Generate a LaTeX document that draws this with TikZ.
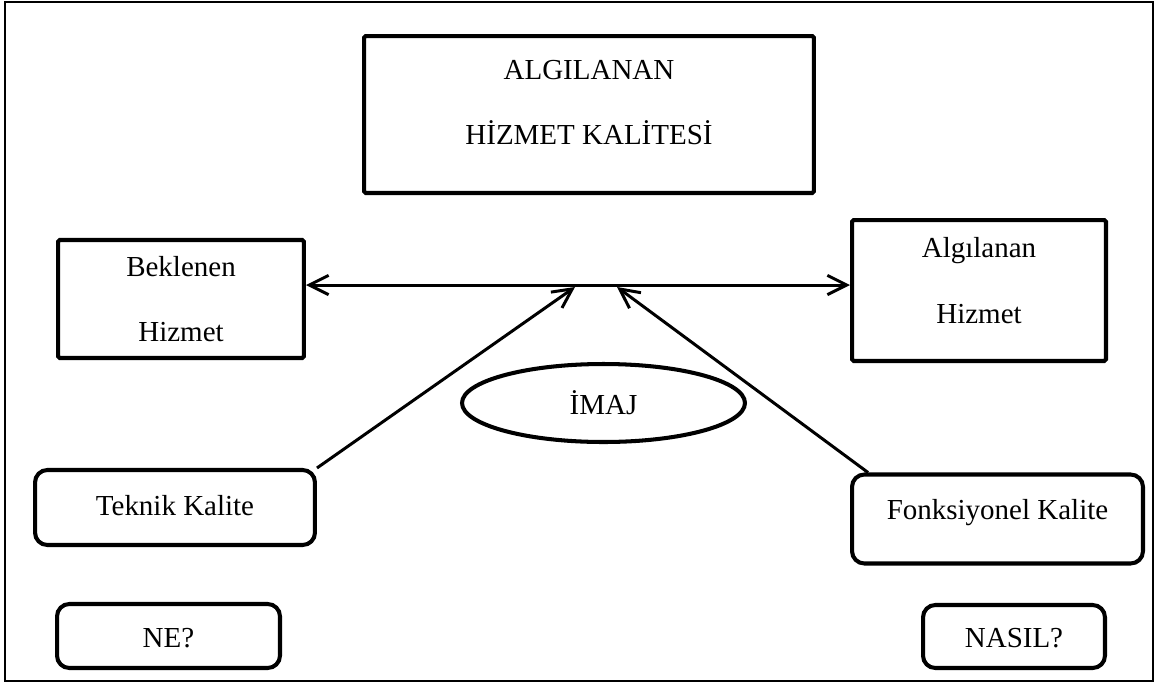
\documentclass[tikz,border=0pt]{standalone}
\usepackage{fontspec}
\setmainfont{Liberation Serif}
\usetikzlibrary{arrows.meta, shapes.geometric, calc}
\tikzset{
  basebox/.style={rectangle, draw=black, line width=2.3pt, align=center,
    inner sep=0pt, font=\fontsize{16.5}{37}\selectfont},
  sqbox/.style={basebox, rounded corners=1pt},
  rndbox/.style={basebox, rounded corners=7pt},
  imgoval/.style={ellipse, draw=black, line width=2.3pt, inner sep=0pt,
    font=\fontsize{16.5}{37}\selectfont},
  arrow/.style={-{Straight Barb[length=11pt, width=11pt]}, line width=1.7pt},
  dblarrow/.style={{Straight Barb[length=11pt, width=11pt]}-{Straight Barb[length=11pt, width=11pt]},
    line width=1.7pt}
}
\begin{document}
\begin{tikzpicture}[x=0.02cm, y=-0.02cm]
  \useasboundingbox (0,0) rectangle (1164,684);
  \draw[line width=1.1pt] (5,2) rectangle (1153,681);

  % Main quality box
  \node[sqbox, minimum width=9cm, text height=2.18cm, text depth=0.96cm] (qual)
    at (589,114.5) {ALGILANAN\\HİZMET KALİTESİ};

  % Expected and perceived service
  \node[sqbox, minimum width=4.92cm, text height=2.04cm, text depth=0.32cm] (expc)
    at (181,299) {Beklenen\\Hizmet};
  \node[sqbox, minimum width=5.08cm, text height=2.06cm, text depth=0.76cm] (perc)
    at (979,290.5) {Algılanan\\Hizmet};

  % Image
  \node[imgoval, minimum width=5.66cm, minimum height=1.56cm] (imaj) at (603.5,403) {İMAJ};

  % Quality dimensions
  \node[rndbox, minimum width=5.6cm, text height=0.9cm, text depth=0.6cm] (tekn)
    at (175,507.5) {Teknik Kalite};
  \node[rndbox, minimum width=5.82cm, text height=0.9cm, text depth=0.88cm] (fonk)
    at (997.5,519) {Fonksiyonel Kalite};

  % Questions
  \node[rndbox, minimum width=4.46cm, text height=0.86cm, text depth=0.42cm] (ne)
    at (168.5,636) {NE?};
  \node[rndbox, minimum width=3.64cm, text height=0.84cm, text depth=0.42cm] (nasil)
    at (1014,636.5) {NASIL?};

  % Arrows
  \coordinate (tipL) at (575,287);
  \coordinate (tipR) at (617,287);
  \draw[dblarrow] (expc.east |- 0,285) -- (perc.west |- 0,285);
  \draw[arrow] (tekn.north east) -- (tipL);
  \draw[arrow] ($(fonk.north west)+(18,0)$) -- (tipR);

\end{tikzpicture}
\end{document}
